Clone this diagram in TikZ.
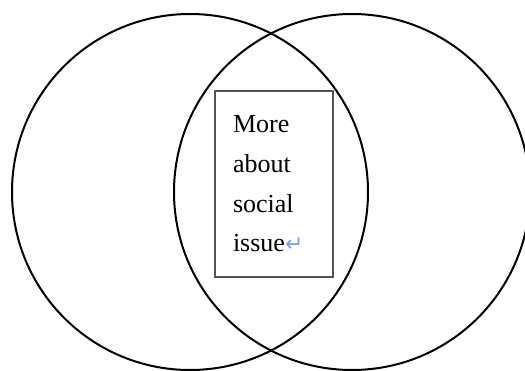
\documentclass[tikz,border=0pt]{standalone}
\usepackage{xcolor}
\usepackage{fontspec}
\setmainfont{Liberation Serif}
\newfontfamily\arrowfont{DejaVu Sans}
\usepackage{tikz}
\definecolor{markblue}{RGB}{110,165,245}
\definecolor{boxgray}{RGB}{85,85,85}
\tikzset{
	ring/.style={line width=2pt, black},
	notebox/.style={draw=boxgray, line width=1.2pt, minimum height=186pt,
		text width=82pt, inner xsep=18pt, inner ysep=0pt, align=left,
		font=\fontsize{26}{39.7}\selectfont}
}
\newcommand{\retmark}{\textcolor{markblue}{\arrowfont\fontsize{22}{22}\selectfont ↵}}

\begin{document}
\begin{tikzpicture}[x=1pt,y=-1pt]
				\useasboundingbox (0,0) rectangle (525,370);
				\foreach \x/\y in
				{L/190, R/352}{
					\coordinate(\x) at (\y,192);
					\draw[ring] (\x) circle (178pt);
				}
				
				% box in the overlap
				\node[notebox] (note) at (274,184) {More\\about\\social\\issue\retmark};
			\end{tikzpicture}
\end{document}
